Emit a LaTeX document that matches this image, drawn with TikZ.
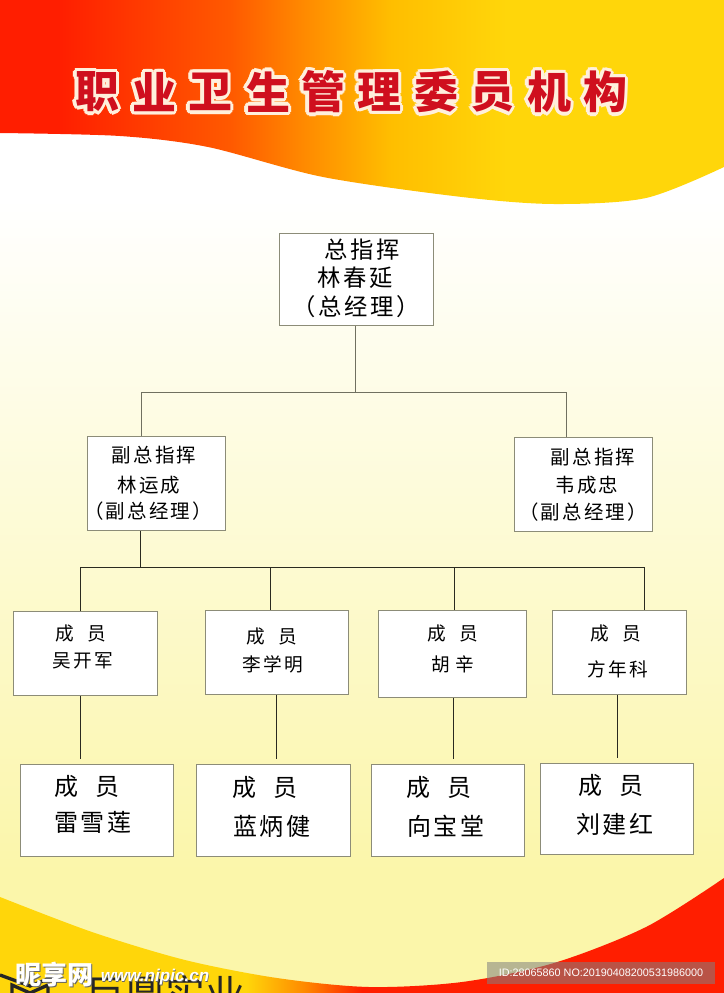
\documentclass[tikz,border=0pt]{standalone}
\usepackage{fontspec}
\newfontfamily\cjk{Noto Sans CJK SC}
\newfontfamily\cjkwide[LetterSpace=11]{Noto Sans CJK SC}
\newfontfamily\idfont{Liberation Sans}
\definecolor{rahmen}{HTML}{8C8C78}
\definecolor{linie}{HTML}{2A2A20}
\definecolor{blass}{HTML}{FBF6AA}
\definecolor{titelrot}{HTML}{CF0F1E}
\definecolor{titelrand}{HTML}{FFF0DC}
\definecolor{oben0}{HTML}{FF1E00}
\definecolor{oben1}{HTML}{FF5A00}
\definecolor{oben2}{HTML}{FF8A00}
\definecolor{oben3}{HTML}{FFBE00}
\definecolor{oben4}{HTML}{FFD60A}
\pgfdeclarehorizontalshading{bandoben}{100bp}{color(0bp)=(oben0);color(29bp)=(oben0);
  color(41bp)=(oben1);color(46bp)=(oben2);color(52bp)=(oben3);color(60bp)=(oben4);color(100bp)=(oben4)}
\pgfdeclarehorizontalshading{bandunten}{100bp}{color(0bp)=(oben4);color(42bp)=(oben4);
  color(46bp)=(oben2);color(50bp)=(oben0);color(100bp)=(oben0)}
\tikzset{
  box/.style 2 args={draw=rahmen,fill=white,line width=.6pt,inner sep=0pt,
    minimum width=#1*.75pt,minimum height=#2*.75pt},
  chef/.style={font=\cjkwide\fontsize{17.5}{19}\selectfont,inner sep=0pt},
  vize/.style={font=\cjkwide\fontsize{14.6}{16}\selectfont,inner sep=0pt},
  klein/.style={font=\cjkwide\fontsize{14}{15}\selectfont,inner sep=0pt},
  gross/.style={font=\cjkwide\fontsize{18}{20}\selectfont,inner sep=0pt},
  titel/.style={font=\cjk\bfseries\fontsize{33}{36}\selectfont,inner sep=0pt},
  verb/.style={draw=linie,line width=.6pt},
  grauverb/.style={draw=rahmen!80!black,line width=.6pt},
  stummel/.style={verb,shorten >=4pt}
}
\begin{document}
\begin{tikzpicture}[x=.75pt,y=-.75pt]
\useasboundingbox (0,0) rectangle (724,993);
\begin{scope}
\clip (0,0) rectangle (724,993);
% Hintergrund
\fill[blass] (0,0) rectangle (724,993);
\shade[top color=white,bottom color=blass] (0,200) rectangle (724,870);
\fill[white] (0,0) rectangle (724,200);
\shade[shading=bandoben] (0,0) -- (724,0) -- (724,167) -- plot[smooth] coordinates
  {(724,167) (646,198) (554,204) (462,197) (323,177) (208,147) (120,136) (0,133)}
  -- cycle;
\shade[shading=bandunten] (0,993) -- (0,897) -- plot[smooth] coordinates
  {(0,897) (92,932) (185,960) (277,978) (369,987) (462,982) (554,963) (646,927) (724,878)}
  -- (724,993) -- cycle;
% Firmenzeichen
\draw[black!85,line width=2.5pt] (0,975) -- (30,986) -- (58,975);
\draw[black!85,line width=2.5pt] (12,997) -- (12,985) -- (30,993) -- (48,985) -- (48,997);
\node[font=\cjk\fontsize{30}{32}\selectfont,black!85,inner sep=0pt] (firma) at (165,994) {巨鼎实业};
\end{scope}
% Titel
\foreach \zeichen/\px in {职/97,业/154,卫/210,生/268,管/323,理/379,委/436,员/492,机/549,构/605}{
  \foreach \w in {0,30,...,330}
    \node[titel,titelrand] (rand\px\w) at ([shift={(\w:3.4)}]\px,92) {\zeichen};
  \node[titel,titelrot] (titel\px) at (\px,92) {\zeichen};
}
% Kaesten
\node[box={154}{92}] (top) at (356.5,279.5) {};
\node[box={138}{94}] (vizeL) at (156.5,483.5) {};
\node[box={138}{94}] (vizeR) at (583.5,484.5) {};
\node[box={144}{84}] (a1) at (85.5,653.5) {};
\node[box={143}{84}] (a2) at (277,652.5) {};
\node[box={148}{87}] (a3) at (452.5,654) {};
\node[box={134}{84}] (a4) at (619.5,652.5) {};
\node[box={153}{92}] (b1) at (97,810.5) {};
\node[box={154}{92}] (b2) at (273.5,810.5) {};
\node[box={153}{92}] (b3) at (448,810.5) {};
\node[box={153}{91}] (b4) at (617,809) {};
% Linien
\coordinate (busO) at (355.5,392.5);
\coordinate (busL) at (141.5,392.5);
\coordinate (busR) at (566.5,392.5);
\coordinate (busU) at (140.5,567.5);
\coordinate (busU1) at (80.5,567.5);
\coordinate (busU2) at (270.5,567.5);
\coordinate (busU3) at (454.5,567.5);
\coordinate (busU4) at (644.5,567.5);
\draw[grauverb] (top.south -| busO) -- (busO);
\draw[grauverb] (vizeL.north -| busL) -- (busL) -- (busR) -- (vizeR.north -| busR);
\draw[verb] (vizeL.south -| busU) -- (busU);
\draw[verb] (a1.north -| busU1) -- (busU1) -- (busU4) -- (a4.north -| busU4);
\draw[verb] (busU2) -- (a2.north -| busU2);
\draw[verb] (busU3) -- (a3.north -| busU3);
\coordinate (s1) at (80.5,0);
\coordinate (s2) at (276.5,0);
\coordinate (s3) at (453.5,0);
\coordinate (s4) at (617.5,0);
\draw[stummel] (a1.south -| s1) -- (b1.north -| s1);
\draw[stummel] (a2.south -| s2) -- (b2.north -| s2);
\draw[stummel] (a3.south -| s3) -- (b3.north -| s3);
\draw[stummel] (a4.south -| s4) -- (b4.north -| s4);
% Beschriftungen
\node[chef] (t1) at (362,250) {总指挥};
\node[chef] (t2) at (355,278) {林春延};
\node[chef] (t3) at (356,307) {（总经理）};
\node[vize] (l1) at (154,455) {副总指挥};
\node[vize] (l2) at (149,485) {林运成};
\node[vize] (l3) at (148,511) {（副总经理）};
\node[vize] (r1) at (593,457) {副总指挥};
\node[vize] (r2) at (587,485) {韦成忠};
\node[vize] (r3) at (583,512) {（副总经理）};
\node[klein] (a1o) at (81,633) {成\hspace{.7em}员};
\node[klein] (a1u) at (83,661) {吴开军};
\node[klein] (a2o) at (272,636) {成\hspace{.7em}员};
\node[klein] (a2u) at (273,664) {李学明};
\node[klein] (a3o) at (453,633) {成\hspace{.7em}员};
\node[klein] (a3u) at (453,664) {胡\hspace{.3em}辛};
\node[klein] (a4o) at (616,633) {成\hspace{.7em}员};
\node[klein] (a4u) at (618,669) {方年科};
\node[gross] (b1o) at (87,786) {成\hspace{.7em}员};
\node[gross] (b1u) at (93,822) {雷雪莲};
\node[gross] (b2o) at (265,787) {成\hspace{.7em}员};
\node[gross] (b2u) at (272,826) {蓝炳健};
\node[gross] (b3o) at (439,787) {成\hspace{.7em}员};
\node[gross] (b3u) at (446,826) {向宝堂};
\node[gross] (b4o) at (611,785) {成\hspace{.7em}员};
\node[gross] (b4u) at (615,824) {刘建红};
% Wasserzeichen
\node[font=\cjk\bfseries\fontsize{19.5}{21}\selectfont,black!60,inner sep=0pt] (ws) at (55.8,975.8) {昵享网};
\node[font=\cjk\bfseries\fontsize{19.5}{21}\selectfont,white,inner sep=0pt] (wm) at (55,975) {昵享网};
\node[font=\idfont\bfseries\itshape\fontsize{12.8}{14}\selectfont,black!60,inner sep=0pt] (us) at (155.6,977.6) {www.nipic.cn};
\node[font=\idfont\bfseries\itshape\fontsize{12.8}{14}\selectfont,white,inner sep=0pt] (ur) at (155,977) {www.nipic.cn};
\node[fill=black!50,fill opacity=.55,text opacity=1,text=white,inner sep=0pt,
  minimum width=171pt,minimum height=16.5pt,font=\idfont\fontsize{8.1}{9}\selectfont] (id) at (601,973)
  {ID:28065860 NO:20190408200531986000};
\end{tikzpicture}
\end{document}
